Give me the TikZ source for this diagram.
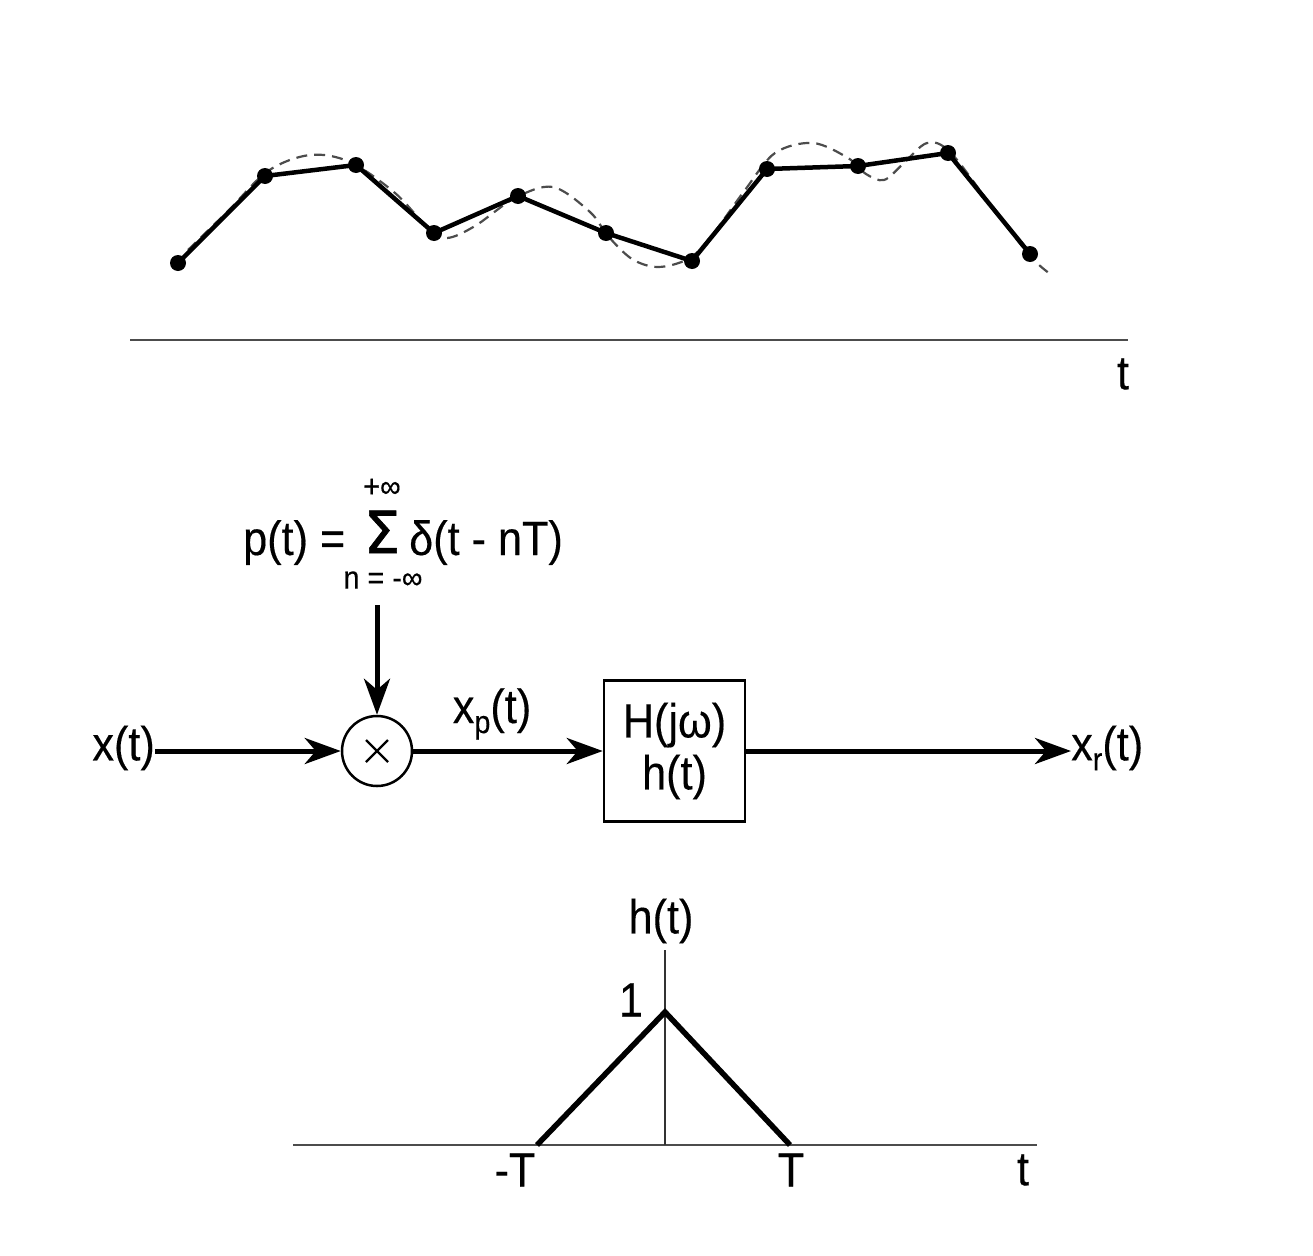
\documentclass[tikz,border=0pt]{standalone}
\usepackage{fontspec}
\setmainfont{Liberation Sans}[FakeStretch=0.9, FakeBold=0.3]
\newfontfamily\sigfont{DejaVu Sans}[FakeBold=1.2]
\usetikzlibrary{arrows.meta}
\begin{document}
\begin{tikzpicture}[x=1pt,y=-1pt,
  lab/.style={inner sep=0pt, font=\fontsize{48}{52}\selectfont},
  small/.style={inner sep=0pt, font=\fontsize{32}{34}\selectfont},
  sig/.style={line width=5pt, -{Stealth[length=36pt,width=26pt,inset=11pt]}},
  wave/.style={line width=4.5pt, line join=round},
  dot/.style={circle, fill=black, inner sep=0pt, minimum size=16pt},
  dashcurve/.style={gray!60!black, line width=2.2pt, dash pattern=on 11pt off 7pt},
  axis/.style={line width=2.2pt, black!70},
  thinaxis/.style={line width=1.5pt, black!80},
  tri/.style={line width=5.5pt, line join=miter}]
\useasboundingbox (0,0) rectangle (1313,1255);

% ---------- top: sampled signal ----------
\draw[dashcurve] plot[smooth, tension=0.55] coordinates {
  (188,250) (228,211) (268,171) (310,155) (350,162) (395,193) (428,228)
  (447,238) (475,226) (515,198) (553,187) (590,212) (608,236) (632,259)
  (658,267) (688,259) (710,238) (745,190) (775,153) (813,143) (848,158)
  (866,174) (884,180) (903,164) (927,143) (950,152) (990,204) (1030,256) (1053,276)};
\coordinate (s1) at (178,263);
\coordinate (s2) at (265,176);
\coordinate (s3) at (356,165);
\coordinate (s4) at (434,233);
\coordinate (s5) at (518,196);
\coordinate (s6) at (606,233);
\coordinate (s7) at (692,261);
\coordinate (s8) at (767,169);
\coordinate (s9) at (858,166);
\coordinate (s10) at (948,153);
\coordinate (s11) at (1030,254);
\draw[wave] (s1) -- (s2) -- (s3) -- (s4) -- (s5) -- (s6) -- (s7) -- (s8) -- (s9) -- (s10) -- (s11);
\foreach \n in {1,...,11} \node[dot] (d\n) at (s\n) {};
\coordinate (ta0) at (130,340);
\coordinate (ta1) at (1128,340);
\draw[axis] (ta0) -- (ta1);
\node[lab] (tlab) at (1123,374) {t};

% ---------- middle: block diagram ----------
\node[lab, anchor=east] (xin) at (155,748) {x(t)};
\node[circle, draw, line width=2.5pt, minimum size=70pt, inner sep=0pt] (mult) at (377,751) {};
\coordinate (c1) at (366,740);
\coordinate (c2) at (388,762);
\coordinate (c3) at (366,762);
\coordinate (c4) at (388,740);
\draw[line width=2.2pt] (c1) -- (c2) (c3) -- (c4);
\node[draw, line width=2.5pt, minimum width=141pt, minimum height=141pt, inner sep=0pt,
      align=center, font=\fontsize{48}{52}\selectfont] (filt) at (674.5,751) {H(jω)\\h(t)};
\node[lab, anchor=west] (xout) at (1071,748) {x{\fontsize{32}{32}\selectfont\raisebox{-10pt}{r}}(t)};
\node[lab] (xplab) at (492,714) {x{\fontsize{32}{32}\selectfont\raisebox{-10pt}{p}}(t)};

% formula
\node[lab, anchor=base west] (pt) at (243,555) {p(t) =};
\node[inner sep=0pt, anchor=base] (sigma) at (382,553) {\sigfont\fontsize{58}{58}\selectfont Σ};
\node[small] (supinf) at (382,488) {+∞};
\node[small] (subinf) at (383,580) {n = -∞};
\node[lab, anchor=base west] (delta) at (409,555) {δ(t - nT)};
\coordinate (pdown) at (377,605);

\draw[sig] (pdown) -- (mult.north);
\draw[sig] (xin.east |- mult.west) -- (mult.west);
\draw[sig] (mult.east) -- (filt.west);
\draw[sig] (filt.east) -- (xout.west |- filt.east);

% ---------- bottom: triangular impulse response ----------
\coordinate (ha0) at (293,1145);
\coordinate (ha1) at (1037,1145);
\coordinate (va0) at (665,1145);
\coordinate (va1) at (665,950);
\coordinate (tl) at (537,1145);
\coordinate (tp) at (665,1012);
\coordinate (tr) at (790,1145);
\draw[axis] (ha0) -- (ha1);
\draw[thinaxis] (va0) -- (va1);
\draw[tri] (tl) -- (tp) -- (tr);
\node[lab] (hlab) at (661,921) {h(t)};
\node[lab] (one) at (631,1000) {1};
\node[lab] (mT) at (515,1170) {-T};
\node[lab] (pT) at (791,1170) {T};
\node[lab] (tb) at (1023,1170) {t};
\end{tikzpicture}
\end{document}
